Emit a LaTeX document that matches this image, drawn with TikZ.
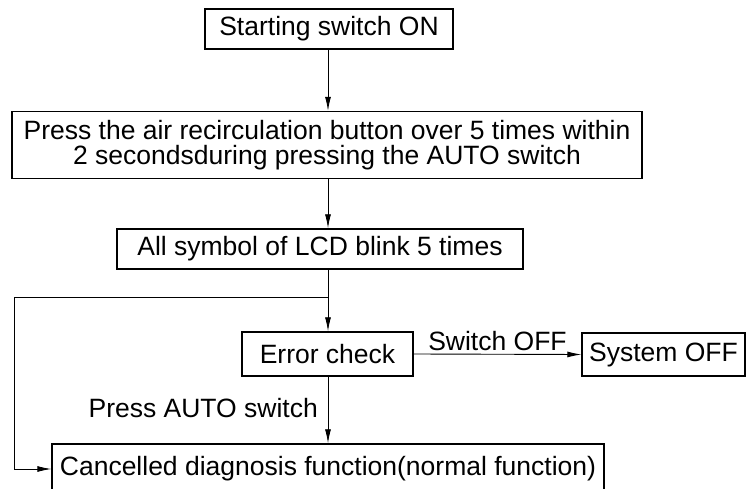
\documentclass[tikz,border=0pt]{standalone}
\usepackage{fontspec}
\setmainfont{Liberation Sans}
\usetikzlibrary{arrows.meta,calc}
\begin{document}
\begin{tikzpicture}[x=1pt,y=-1pt,
  box/.style={draw,line width=1.4pt,inner sep=0pt,align=center,font=\fontsize{26.5}{24.5}\selectfont},
  lbl/.style={font=\fontsize{26.5}{24.5}\selectfont,inner sep=0pt},
  arr/.style={line width=0.9pt,-{Latex[length=14pt,width=6pt]}},
  ln/.style={line width=0.9pt}]
\useasboundingbox (0,0) rectangle (748,489);
\node[box,minimum width=248pt,minimum height=40pt] (b1) at (329,29) {Starting switch ON};
\node[box,minimum width=630pt,minimum height=67pt] (b2) at (327,145) {Press the air recirculation button over 5 times within\\2 secondsduring pressing the AUTO switch};
\node[box,minimum width=406pt,minimum height=40pt] (b3) at (320,249) {All symbol of LCD blink 5 times};
\node[box,minimum width=171pt,minimum height=44pt] (b4) at (327.5,354) {Error check};
\node[box,minimum width=163pt,minimum height=43pt] (b5) at (663.5,354.5) {System OFF};
\node[box,minimum width=552pt,minimum height=50pt] (b6) at (328,469) {Cancelled diagnosis function(normal function)};
\coordinate (j) at (328,297);
\coordinate (lc) at (14,297);
\draw[arr] (b1.south -| j) -- (b2.north -| j);
\draw[arr] (b2.south -| j) -- (b3.north -| j);
\draw[ln] (b3.south -| j) -- (j);
\draw[arr] (j) -- (b4.north -| j);
\draw[arr] (b4.south -| j) -- (b6.north -| j);
\draw[arr] (j) -- (lc) |- (b6.west);
\draw[arr] (b4.east) -- (b5.west) node[lbl,midway,above=3pt] {Switch OFF};
\node[lbl,anchor=east] (pa) at (318,408) {Press AUTO switch};
\end{tikzpicture}
\end{document}
